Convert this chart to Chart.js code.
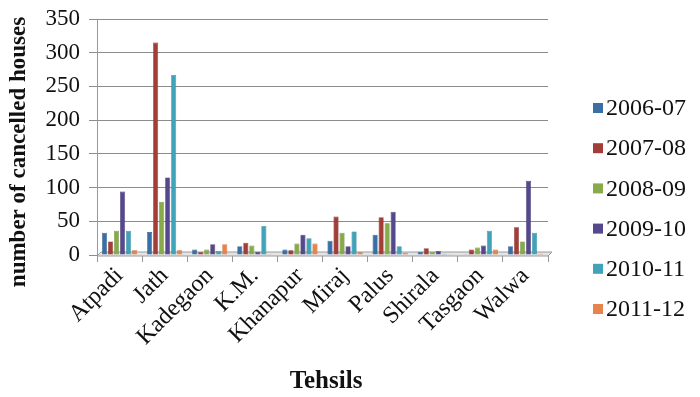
<!DOCTYPE html>
<html>
<head>
<meta charset="utf-8">
<script src="https://cdn.jsdelivr.net/npm/chart.js@4/dist/chart.umd.min.js"></script>
<style>
  html, body { margin: 0; padding: 0; background: #ffffff; }
  #wrap { width: 700px; height: 397px; position: relative; }
</style>
</head>
<body>
<div id="wrap"><canvas id="c" width="700" height="397"></canvas></div>
<script>
// Tehsil-wise number of cancelled houses, by year
const tehsils = ['Atpadi', 'Jath', 'Kadegaon', 'K.M.', 'Khanapur', 'Miraj', 'Palus', 'Shirala', 'Tasgaon', 'Walwa'];
const years = ['2006-07', '2007-08', '2008-09', '2009-10', '2010-11', '2011-12'];
const y2006_07 = [33, 34, 8, 13, 8, 21, 30, 5, 1, 13];
const y2007_08 = [20, 315, 4, 18, 7, 57, 56, 10, 8, 41];
const y2008_09 = [36, 79, 8, 14, 17, 33, 47, 5, 11, 20];
const y2009_10 = [94, 115, 16, 5, 30, 13, 64, 6, 14, 110];
const y2010_11 = [36, 267, 6, 43, 25, 35, 13, 2, 36, 33];
const y2011_12 = [7, 7, 16, 1, 17, 4, 3, 1, 8, 2];
const yTicks = [0, 50, 100, 150, 200, 250, 300, 350];

const seriesValues = [y2006_07, y2007_08, y2008_09, y2009_10, y2010_11, y2011_12];
const fills = ['#3a6fa6', '#a23d38', '#87ab4b', '#56488c', '#41a3b9', '#e8834b'];
const edges = ['#2c5582', '#7d2d2a', '#6a873a', '#41366c', '#2f7f91', '#bf6636'];

const serif = "'Liberation Serif', 'DejaVu Serif', serif";

// Thin floor under the bars, axis titles and the legend column on the right
const decorations = {
  id: 'decorations',
  beforeDatasetsDraw(chart) {
    const { ctx, chartArea: a } = chart;
    const y0 = chart.scales.y.getPixelForValue(0);
    ctx.save();
    ctx.fillStyle = '#e4e4e4';
    ctx.strokeStyle = '#9a9a9a';
    ctx.lineWidth = 1;
    ctx.beginPath();
    ctx.moveTo(a.left + 4, y0 - 3);
    ctx.lineTo(a.right + 4, y0 - 3);
    ctx.lineTo(a.right, y0 + 1);
    ctx.lineTo(a.left, y0 + 1);
    ctx.closePath();
    ctx.fill();
    ctx.stroke();
    ctx.restore();
  },
  afterDraw(chart) {
    const { ctx } = chart;
    ctx.save();
    ctx.fillStyle = '#111';
    ctx.textAlign = 'center';
    ctx.textBaseline = 'middle';

    // x axis title
    ctx.font = "bold 25px " + serif;
    ctx.fillText('Tehsils', 326, 382);

    // y axis title
    ctx.save();
    ctx.translate(19, 152);
    ctx.rotate(-Math.PI / 2);
    ctx.font = "bold 23px " + serif;
    ctx.fillText('number of cancelled houses', 0, 0);
    ctx.restore();

    // legend
    ctx.textAlign = 'left';
    ctx.font = "24px " + serif;
    chart.data.datasets.forEach((ds, i) => {
      const cy = 108 + i * 40.2;
      ctx.fillStyle = ds.backgroundColor;
      ctx.fillRect(593, cy - 5, 10, 10);
      ctx.fillStyle = '#111';
      ctx.fillText(ds.label, 606, cy + 1);
    });
    ctx.restore();
  }
};

new Chart(document.getElementById('c'), {
  type: 'bar',
  data: {
    labels: tehsils,
    datasets: years.map((y, i) => ({
      label: y,
      data: seriesValues[i],
      backgroundColor: fills[i],
      borderColor: edges[i],
      borderWidth: 0.6,
      categoryPercentage: 0.8,
      barPercentage: 0.85
    }))
  },
  plugins: [decorations],
  options: {
    responsive: false,
    animation: false,
    layout: { padding: { top: 19, right: 152, bottom: 0, left: 0 } },
    plugins: {
      tooltip: { enabled: false },
      legend: { display: false }
    },
    scales: {
      x: {
        grid: { display: true, drawOnChartArea: false, drawTicks: true, tickLength: 7, color: '#999', offset: true },
        border: { display: true, color: '#999' },
        ticks: {
          color: '#111',
          font: { family: serif, size: 24 },
          minRotation: 45,
          maxRotation: 45,
          autoSkip: false,
          padding: 0
        },
        afterFit: (s) => { s.height = 142; }
      },
      y: {
        min: 0,
        max: 350,
        afterBuildTicks: (s) => { s.ticks = yTicks.map(v => ({ value: v })); },
        grid: { color: '#8c8c8c', lineWidth: 1, tickLength: 8 },
        border: { display: true, color: '#999' },
        ticks: {
          color: '#111',
          font: { family: serif, size: 23 },
          padding: 9
        },
        afterFit: (s) => { s.width = 97; s.paddingTop = 0; s.paddingBottom = 0; }
      }
    }
  }
});
</script>
</body>
</html>
